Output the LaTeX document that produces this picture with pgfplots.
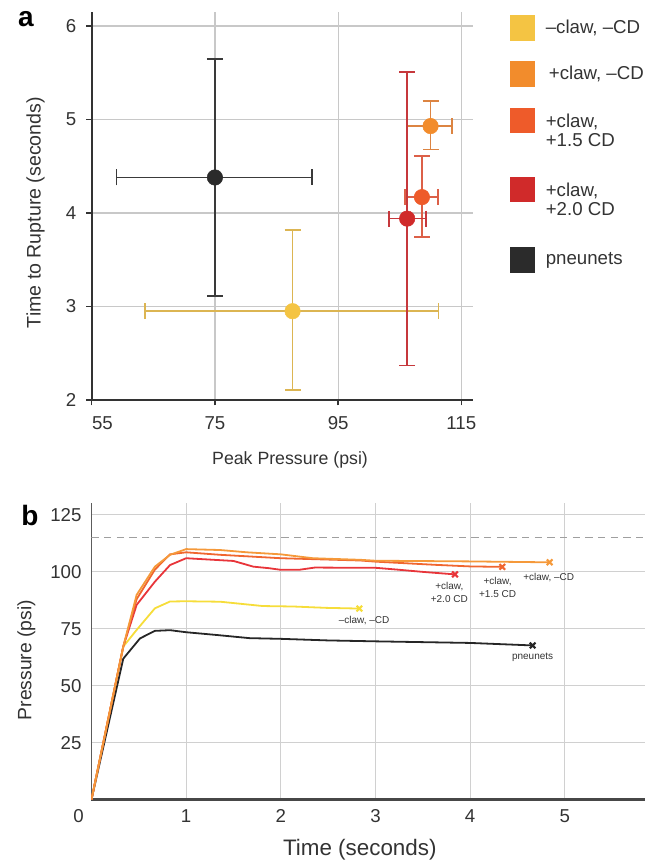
\documentclass[border=0pt]{standalone}
\usepackage{fontspec}
\setmainfont{Liberation Sans}
\usepackage{pgfplots}
\usepackage{pgfplotstable}
\pgfplotsset{compat=1.18}

% dot / legend colours (panel a)
\definecolor{cYel}{HTML}{F4C443}
\definecolor{cOra}{HTML}{F28C2C}
\definecolor{cRO}{HTML}{EE5B2A}
\definecolor{cRed}{HTML}{D02A2A}
\definecolor{cBlk}{HTML}{2B2B2B}
% error bar colours
\definecolor{bYel}{HTML}{DCB552}
\definecolor{bOra}{HTML}{DC8442}
\definecolor{bRO}{HTML}{DC6048}
\definecolor{bRed}{HTML}{C6383C}
\definecolor{bBlk}{HTML}{3A3A3A}
% line colours (panel b)
\definecolor{lYel}{HTML}{F6DD3A}
\definecolor{lOra}{HTML}{F5993A}
\definecolor{lRO}{HTML}{F0662F}
\definecolor{lRed}{HTML}{E8353A}
\definecolor{lBlk}{HTML}{262626}
\definecolor{txt}{HTML}{333333}
\definecolor{gridc}{HTML}{C8C8C8}

% panel a: peak pressure vs time to rupture, asymmetric error bars
\pgfplotstableread{
x     y     xm    xp    ym    yp
87.6  2.95  24.0  23.7  0.84  0.87
}\yelA
\pgfplotstableread{
x     y     xm    xp    ym    yp
110.0 4.93  3.8   3.5   0.25  0.27
}\oraA
\pgfplotstableread{
x     y     xm    xp    ym    yp
108.6 4.17  2.7   2.6   0.43  0.44
}\roA
\pgfplotstableread{
x     y     xm    xp    ym    yp
106.2 3.94  3.0   3.1   1.57  1.57
}\redA
\pgfplotstableread{
x     y     xm    xp    ym    yp
75.0  4.38  16.0  15.8  1.27  1.27
}\blkA

\pgfplotsset{
  errstyle/.style={
    only marks, mark=*, mark size=5.8pt,
    error bars/x dir=both, error bars/y dir=both,
    error bars/x explicit, error bars/y explicit,
    error bars/error bar style={line width=1.3pt},
    error bars/error mark options={rotate=90, line width=1.3pt, mark size=6pt},
  },
}

\begin{document}
\begin{tikzpicture}
\useasboundingbox (0,0) rectangle (487.5pt,-647.25pt);

\node[font=\bfseries\fontsize{21}{21}\selectfont] at (19.5pt,-14.25pt) {a};
\node[font=\bfseries\fontsize{21}{21}\selectfont] at (22.5pt,-386.25pt) {b};

\begin{axis}[
  at={(68.8pt,-300pt)}, anchor=south west,
  width=286pt, height=291pt, scale only axis,
  xmin=55, xmax=116.9, ymin=2, ymax=6.15,
  xtick={75,95,115}, ytick={2,3,4,5,6},
  extra x ticks={55},
  extra x tick style={grid=none, xticklabel style={xshift=8pt}},
  axis x line*=bottom, axis y line*=left,
  axis line style={-, line width=1.5pt, color=txt},
  tick align=outside, major tick length=4pt,
  tick style={line width=1pt, color=txt},
  grid=major, grid style={line width=0.9pt, color=gridc},
  ticklabel style={font=\fontsize{14}{16}\selectfont, text=txt},
  xticklabel style={yshift=-5pt},
  yticklabel style={xshift=-4pt},
  /pgf/number format/assume math mode=true,
  xlabel={Peak Pressure (psi)},
  ylabel={Time to Rupture (seconds)},
  xlabel style={font=\fontsize{13.3}{16}\selectfont, text=txt,
    at={(axis description cs:0.52,0)}, anchor=base, yshift=-48pt},
  ylabel style={font=\fontsize{14.7}{16}\selectfont, text=txt,
    at={(axis description cs:-0.1343,0.483)}, anchor=base},
  legend style={draw=none, fill=none, at={(1,1)}, anchor=north west,
    xshift=27.2pt, yshift=-2.25pt, inner sep=0pt,
    font=\fontsize{14}{14.25}\selectfont, text=txt,
    nodes={inner sep=0pt},
    row sep=15.7pt, column sep=8.25pt,
    cells={anchor=west, align=left}},
  legend cell align=left,
]
\addplot[errstyle, color=bYel, mark options={fill=cYel, draw=cYel},
  legend image code/.code={\fill[cYel] (0pt,-9.25pt) rectangle (18.5pt,9.25pt);}]
  table[x=x, y=y, x error minus=xm, x error plus=xp, y error minus=ym, y error plus=yp]{\yelA};
\addplot[errstyle, color=bOra, mark options={fill=cOra, draw=cOra},
  legend image code/.code={\fill[cOra] (0pt,-9.25pt) rectangle (18.5pt,9.25pt);}]
  table[x=x, y=y, x error minus=xm, x error plus=xp, y error minus=ym, y error plus=yp]{\oraA};
\addplot[errstyle, color=bRO, mark options={fill=cRO, draw=cRO},
  legend image code/.code={\fill[cRO] (0pt,-0.75pt) rectangle (18.5pt,17.75pt);
    \path (0pt,-18pt);}]
  table[x=x, y=y, x error minus=xm, x error plus=xp, y error minus=ym, y error plus=yp]{\roA};
\addplot[errstyle, color=bRed, mark options={fill=cRed, draw=cRed},
  legend image code/.code={\fill[cRed] (0pt,-0.75pt) rectangle (18.5pt,17.75pt);
    \path (0pt,-19pt);}]
  table[x=x, y=y, x error minus=xm, x error plus=xp, y error minus=ym, y error plus=yp]{\redA};
\addplot[errstyle, color=bBlk, mark options={fill=cBlk, draw=cBlk},
  legend image code/.code={\fill[cBlk] (0pt,-9.25pt) rectangle (18.5pt,9.25pt);}]
  table[x=x, y=y, x error minus=xm, x error plus=xp, y error minus=ym, y error plus=yp]{\blkA};
\legend{{–claw, –CD}, {\,+claw, –CD}, {+claw,\\+1.5 CD}, {+claw,\\+2.0 CD}, pneunets}
\end{axis}

\begin{axis}[
  at={(68.6pt,-599.7pt)}, anchor=south west,
  width=415pt, height=222.2pt, scale only axis,
  xmin=0, xmax=5.845, ymin=0, ymax=130.1,
  xtick={1,2,3,4,5}, ytick={25,50,75,100,125},
  extra x ticks={0},
  extra x tick style={grid=none, xticklabel style={xshift=-9.75pt}},
  axis x line*=bottom, axis y line*=left,
  x axis line style={-, line width=1.8pt, color=txt!90},
  y axis line style={-, line width=1.2pt, color=txt!80},
  major tick length=0pt,
  grid=major, grid style={line width=0.8pt, color=gridc!85},
  ticklabel style={font=\fontsize{14}{16}\selectfont, text=txt},
  xticklabel style={yshift=-4pt},
  yticklabel style={xshift=-4pt},
  /pgf/number format/assume math mode=true,
  xlabel={Time (seconds)},
  ylabel={Pressure (psi)},
  xlabel style={font=\fontsize{16.8}{18}\selectfont, text=txt,
    at={(axis description cs:0.485,0)}, anchor=base, yshift=-42pt},
  ylabel style={font=\fontsize{14.5}{16}\selectfont, text=txt,
    at={(axis description cs:-0.1084,0.471)}, anchor=base},
]
\addplot[gray!75, line width=1pt, dash pattern=on 5.5pt off 4pt]
  coordinates {(0,115.2) (5.845,115.2)};

\addplot[lBlk, line width=1.35pt] coordinates {
  (0,0) (0.336,61.9) (0.513,70.8) (0.67,74.1) (0.83,74.4) (1.0,73.5)
  (1.32,72.3) (1.67,70.9) (2.0,70.6) (2.5,69.9) (3.0,69.5) (4.0,68.8) (4.66,67.7)};
\addplot[lYel, line width=1.35pt] coordinates {
  (0,0) (0.336,67.2) (0.477,74.5) (0.67,84.0) (0.83,87.0) (1.0,87.1)
  (1.36,86.9) (1.81,85.0) (2.13,84.8) (2.48,84.2) (2.83,83.9)};
\addplot[lRed, line width=1.35pt] coordinates {
  (0,0) (0.336,67.2) (0.477,85.5) (0.67,95.7) (0.83,103.0) (1.0,106.0)
  (1.5,104.8) (1.71,102.3) (1.88,101.6) (2.0,100.9) (2.19,100.9) (2.36,101.9)
  (2.84,101.8) (3.0,101.8) (3.23,101.0) (3.5,100.0) (3.84,98.9)};
\addplot[lRO, line width=1.35pt] coordinates {
  (0,0) (0.336,67.2) (0.477,88.0) (0.67,101.0) (0.83,107.7) (1.0,108.6)
  (1.36,107.5) (2.0,106.0) (2.84,105.0) (3.0,104.5) (3.63,103.1) (4.0,102.4) (4.34,102.2)};
\addplot[lOra, line width=1.35pt] coordinates {
  (0,0) (0.336,67.2) (0.477,89.9) (0.67,102.3) (0.83,107.5) (1.0,110.0)
  (1.36,109.6) (1.64,108.6) (2.0,107.7) (2.34,106.0) (2.84,105.3) (3.0,104.9)
  (4.0,104.6) (4.84,104.2)};

% rupture points
\addplot[only marks, mark=x, mark size=3pt, lBlk, mark options={line width=1.6pt}]
  coordinates {(4.66,67.7)};
\addplot[only marks, mark=x, mark size=3pt, lYel, mark options={line width=1.6pt}]
  coordinates {(2.83,83.9)};
\addplot[only marks, mark=x, mark size=3pt, lRed, mark options={line width=1.6pt}]
  coordinates {(3.84,98.9)};
\addplot[only marks, mark=x, mark size=3pt, lRO, mark options={line width=1.6pt}]
  coordinates {(4.34,102.2)};
\addplot[only marks, mark=x, mark size=3pt, lOra, mark options={line width=1.6pt}]
  coordinates {(4.84,104.2)};

\begin{scope}[every node/.style={font=\fontsize{7.5}{10}\selectfont, text=txt, align=center}]
\node at (axis cs:3.78,91.05) {+claw,\\+2.0 CD};
\node at (axis cs:4.29,93.3) {+claw,\\+1.5 CD};
\node at (axis cs:4.83,97.6) {+claw, –CD};
\node at (axis cs:2.88,78.5) {–claw, –CD};
\node at (axis cs:4.66,62.3) {pneunets};
\end{scope}
\end{axis}
\end{tikzpicture}
\end{document}
